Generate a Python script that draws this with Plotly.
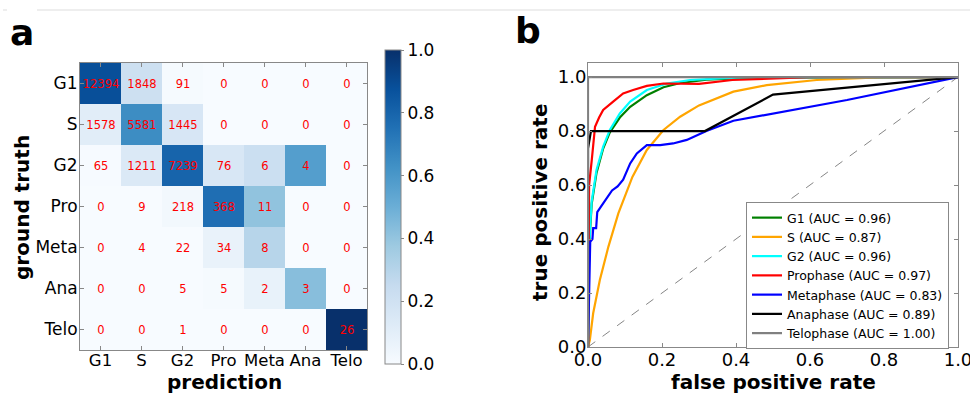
import plotly.graph_objects as go

W, H = 970, 394
FONT = "DejaVu Sans"

# ---------------- data ----------------
classes = ["G1", "S", "G2", "Pro", "Meta", "Ana", "Telo"]
counts = [
    [12394, 1848, 91, 0, 0, 0, 0],
    [1578, 5581, 1445, 0, 0, 0, 0],
    [65, 1211, 7239, 76, 6, 4, 0],
    [0, 9, 218, 368, 11, 0, 0],
    [0, 4, 22, 34, 8, 0, 0],
    [0, 0, 5, 5, 2, 3, 0],
    [0, 0, 1, 0, 0, 0, 26],
]
cbar_ticks = [0.0, 0.2, 0.4, 0.6, 0.8, 1.0]

g1_fpr = [0, 0.002, 0.006, 0.01, 0.023, 0.041, 0.059, 0.086, 0.114, 0.159, 0.204, 0.25, 0.32, 0.45, 1.0]
g1_tpr = [0, 0.29, 0.44, 0.53, 0.645, 0.735, 0.795, 0.85, 0.89, 0.933, 0.962, 0.978, 0.99, 0.998, 1.0]

s_fpr = [0, 0.005, 0.014, 0.032, 0.055, 0.082, 0.12, 0.159, 0.204, 0.249, 0.30, 0.393, 0.483, 0.618, 0.8, 1.0]
s_tpr = [0, 0.026, 0.125, 0.248, 0.371, 0.495, 0.63, 0.730, 0.804, 0.853, 0.895, 0.946, 0.970, 0.989, 1.0, 1.0]

g2_fpr = [0, 0.002, 0.006, 0.01, 0.023, 0.041, 0.059, 0.086, 0.114, 0.159, 0.213, 0.276, 0.4, 1.0]
g2_tpr = [0, 0.30, 0.45, 0.54, 0.656, 0.742, 0.804, 0.865, 0.909, 0.952, 0.976, 0.989, 0.998, 1.0]

pro_fpr = [0, 0.003, 0.01, 0.019, 0.03, 0.041, 0.068, 0.095, 0.122, 0.159, 0.204, 0.30, 0.39, 0.6, 1.0]
pro_tpr = [0, 0.60, 0.69, 0.816, 0.85, 0.878, 0.909, 0.939, 0.952, 0.967, 0.976, 0.975, 0.989, 1.0, 1.0]

meta_fpr = [0, 0.003, 0.005, 0.006, 0.012, 0.014, 0.022, 0.025, 0.035, 0.045, 0.055, 0.065, 0.08, 0.095,
            0.114, 0.132, 0.159, 0.195, 0.23, 0.267, 0.32, 0.393, 0.70, 1.0]
meta_tpr = [0, 0.28, 0.30, 0.39, 0.40, 0.44, 0.44, 0.50, 0.52, 0.54, 0.56, 0.58, 0.595, 0.62,
            0.68, 0.717, 0.748, 0.748, 0.754, 0.767, 0.80, 0.838, 0.915, 1.0]

ana_fpr = [0, 0, 0.008, 0.316, 0.50, 1.0]
ana_tpr = [0, 0.735, 0.80, 0.80, 0.935, 1.0]

telo_fpr = [0, 0, 1.0]
telo_tpr = [0, 1.0, 1.0]

roc_names = ["G1 (AUC = 0.96)", "S (AUC = 0.87)", "G2 (AUC = 0.96)", "Prophase (AUC = 0.97)",
             "Metaphase (AUC = 0.83)", "Anaphase (AUC = 0.89)", "Telophase (AUC = 1.00)"]
roc_colors = ["green", "orange", "cyan", "red", "blue", "black", "gray"]
roc_fpr = [g1_fpr, s_fpr, g2_fpr, pro_fpr, meta_fpr, ana_fpr, telo_fpr]
roc_tpr = [g1_tpr, s_tpr, g2_tpr, pro_tpr, meta_tpr, ana_tpr, telo_tpr]
roc_ticks = [0.0, 0.2, 0.4, 0.6, 0.8, 1.0]

# column-normalised colour values
col_sums = [sum(counts[i][j] for i in range(len(classes))) for j in range(len(classes))]
z = [[counts[i][j] / col_sums[j] for j in range(len(classes))] for i in range(len(classes))]
text = [[str(v) for v in row] for row in counts]

def px_x(p):
    return p / W

def px_y(p):
    return 1 - p / H

fig = go.Figure()

fig.add_trace(go.Heatmap(
    z=z, x=classes, y=classes, text=text, texttemplate="%{text}",
    textfont=dict(color="red", size=11.5, family=FONT),
    colorscale="Blues", zmin=0, zmax=1, xaxis="x", yaxis="y",
    hoverinfo="skip",
    colorbar=dict(
        x=px_x(385), xanchor="left", xref="paper",
        y=px_y(207), yanchor="middle", yref="paper",
        len=314 / H, lenmode="fraction", thickness=16, thicknessmode="pixels",
        xpad=0, ypad=0, outlinecolor="#888888", outlinewidth=1,
        tickvals=cbar_ticks, ticktext=[f"{v:.1f}" for v in cbar_ticks],
        ticks="outside", ticklen=3, tickcolor="#888888",
        tickfont=dict(size=17, family=FONT, color="black"),
    ),
))

# diagonal reference
fig.add_trace(go.Scatter(x=[0, 1], y=[0, 1], mode="lines", xaxis="x2", yaxis="y2",
                         line=dict(color="#666666", width=0.8, dash="dash"),
                         showlegend=False, hoverinfo="skip"))

for name, col, fx, ty in zip(roc_names, roc_colors, roc_fpr, roc_tpr):
    fig.add_trace(go.Scatter(x=fx, y=ty, mode="lines", name=name, xaxis="x2", yaxis="y2",
                             line=dict(color=col, width=2.2)))

axis_common = dict(showline=True, linecolor="#888888", linewidth=1, mirror="ticks",
                   ticks="inside", ticklen=4, tickcolor="#888888", showgrid=False, zeroline=False,
                   automargin=False, ticklabeloverflow="allow")

fig.update_layout(
    template="none",
    width=W, height=H, margin=dict(l=0, r=0, t=0, b=0, pad=0, autoexpand=False),
    paper_bgcolor="white", plot_bgcolor="white",
    font=dict(family=FONT, color="black"),
    xaxis=dict(domain=[px_x(80), px_x(367)], anchor="y", type="category",
               tickfont=dict(size=16.5), ticklabelstandoff=-5, **axis_common),
    yaxis=dict(domain=[px_y(350), px_y(63)], anchor="x", type="category",
               autorange="reversed", tickfont=dict(size=17), ticklabelstandoff=-2, **axis_common),
    xaxis2=dict(domain=[px_x(588), px_x(958)], anchor="y2", range=[0, 1],
                tickvals=roc_ticks, ticktext=[f"{v:.1f}" for v in roc_ticks],
                tickfont=dict(size=18), ticklabelstandoff=-4, **axis_common),
    yaxis2=dict(domain=[px_y(347), px_y(63)], anchor="x2", range=[0, 1.052],
                tickvals=roc_ticks, ticktext=[f"{v:.1f}" for v in roc_ticks],
                tickfont=dict(size=18), ticklabelstandoff=-3, **axis_common),
    legend=dict(x=px_x(746), xanchor="left", y=px_y(202), yanchor="top",
                bordercolor="#888888", borderwidth=1, bgcolor="white",
                font=dict(size=12.5, family=FONT), itemwidth=30),
    showlegend=True,
)

annots = [
    dict(text="<b>a</b>", x=px_x(22), y=px_y(33), font=dict(size=36)),
    dict(text="<b>b</b>", x=px_x(528), y=px_y(31), font=dict(size=36)),
    dict(text="<b>prediction</b>", x=px_x(224), y=px_y(381.5), font=dict(size=20)),
    dict(text="<b>ground truth</b>", x=px_x(22), y=px_y(208), font=dict(size=20), textangle=-90),
    dict(text="<b>false positive rate</b>", x=px_x(773), y=px_y(381.5), font=dict(size=20)),
    dict(text="<b>true positive rate</b>", x=px_x(540), y=px_y(203), font=dict(size=20), textangle=-90),
]
for a in annots:
    fig.add_annotation(xref="paper", yref="paper", showarrow=False,
                       xanchor="center", yanchor="middle", **a)

# thin page rule at the top
fig.add_shape(type="line", xref="paper", yref="paper", x0=px_x(37), x1=1, y0=px_y(10), y1=px_y(10),
              line=dict(color="#dddddd", width=1))
fig.add_shape(type="line", xref="paper", yref="paper", x0=px_x(3), x1=px_x(7), y0=px_y(10), y1=px_y(10),
              line=dict(color="#dddddd", width=1))

fig.write_html("out.html")
